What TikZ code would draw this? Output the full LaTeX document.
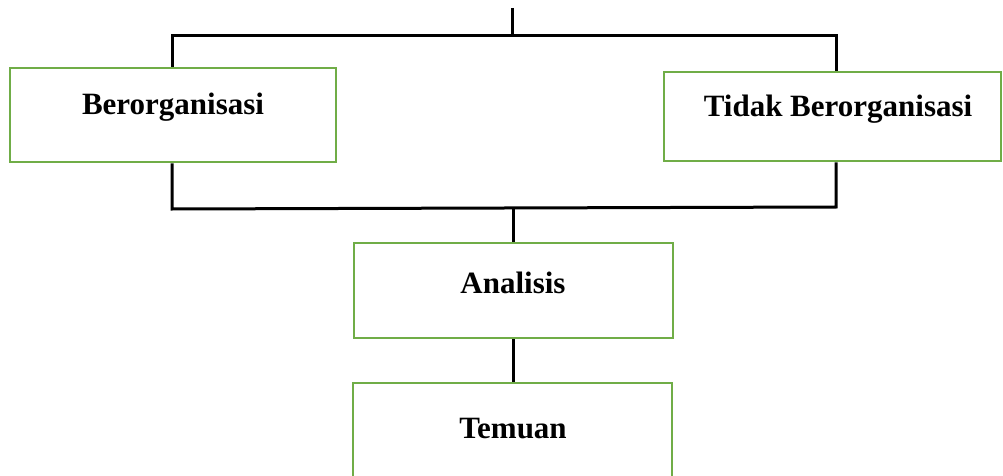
\documentclass[tikz,border=0pt]{standalone}
\usepackage{fontspec}
\setmainfont{Liberation Serif}
\definecolor{boxgreen}{RGB}{112,173,71}
\begin{document}
\begin{tikzpicture}[x=1pt,y=-1pt,
  box/.style={draw=boxgreen, line width=2.5pt, fill=white, inner sep=0pt},
  wire/.style={line width=3pt, black, line join=miter},
  lbl/.style={font=\fontsize{31}{36}\selectfont\bfseries, anchor=base, inner sep=0pt}]
\useasboundingbox (0,0) rectangle (1003,476);
\clip (0,0) rectangle (1003,476);
% connectors
\coordinate (top) at (512,8);
\coordinate (jt) at (512,36);
\coordinate (jl) at (172,36);
\coordinate (jr) at (836,36);
\coordinate (bl) at (172,209);
\coordinate (br) at (836,207);
\coordinate (bm) at (513,208);
% boxes
\node[box, minimum width=326pt, minimum height=94pt] (L) at (173,115) {};
\node[box, minimum width=337pt, minimum height=89pt] (R) at (832.5,116.5) {};
\node[box, minimum width=319pt, minimum height=95pt] (A) at (513.5,290.5) {};
\node[box, minimum width=319pt, minimum height=100pt] (T) at (512.5,433) {};
% texts
\node[lbl] (Lt) at (173,115) {Berorganisasi};
\node[lbl] (Rt) at (838,117) {Tidak Berorganisasi};
\node[lbl] (At) at (513,293) {Analisis};
\node[lbl] (Tt) at (513,438) {Temuan};
% wires
\draw[wire] (top) -- (jt);
\draw[wire] (jl |- L.north) -- (jl) -- (jr) -- (jr |- R.north);
\draw[wire] (bl |- L.south) -- (bl) -- (br) -- (br |- R.south);
\draw[wire] (bm) -- (bm |- A.north);
\draw[wire] (bm |- A.south) -- (bm |- T.north);
\end{tikzpicture}
\end{document}
